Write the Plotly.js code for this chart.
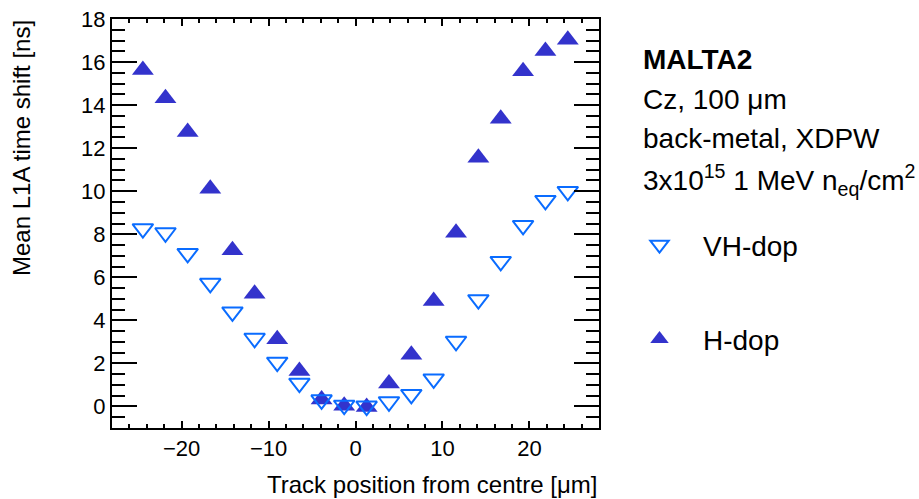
<!DOCTYPE html>
<html><head><meta charset="utf-8">
<script src="https://cdn.plot.ly/plotly-3.0.1.min.js"></script>
<style>html,body{margin:0;padding:0;background:#fff;} #plot{width:919px;height:499px;}</style>
</head><body><div id="plot"></div>
<script>
// Track position from centre [um]
const trackPos = [-24.45,-21.85,-19.3,-16.7,-14.15,-11.6,-9.0,-6.45,-3.9,-1.3,1.28,3.85,6.42,8.99,11.56,14.13,16.7,19.27,21.84,24.41];
// Mean L1A time shift [ns]
const vhDop = [8.26,8.07,7.11,5.72,4.39,3.17,2.06,1.08,0.31,0.06,0.02,0.22,0.56,1.28,3.03,4.96,6.74,8.41,9.57,9.99];
const hDop  = [15.63,14.32,12.75,10.11,7.26,5.24,3.12,1.65,0.32,0.03,-0.03,1.07,2.40,4.90,8.07,11.56,13.37,15.57,16.51,17.04];
const xTicks = [-20,-10,0,10,20];
const yTicks = [0,2,4,6,8,10,12,14,16,18];
const seriesNames = ['VH-dop','H-dop'];
const infoLines = ['<b>MALTA2</b>','Cz, 100 μm','back-metal, XDPW','3x10<sup>15</sup> 1 MeV n<sub>eq</sub>/cm<sup>2</sup>'];

const FONT = 'Liberation Sans, Arial, Helvetica, sans-serif';

const traces = [
  {x: trackPos, y: hDop, name: seriesNames[1], type:'scatter', mode:'markers', legendgroup:'h', legendrank:2,
   marker:{symbol:'triangle-up', size:19, color:'#3333cc', line:{width:0}}},
  {x: trackPos, y: vhDop, name: seriesNames[0], type:'scatter', mode:'markers', legendgroup:'vh', legendrank:1,
   marker:{symbol:'triangle-down-open', size:18, color:'#0a6cff', line:{width:2, color:'#0a6cff'}}}
];

const axBase = {
  ticks:'inside', tickwidth:2, tickcolor:'black',
  showline:true, linewidth:2, linecolor:'black', mirror:'allticks',
  zeroline:false, showgrid:false,
  tickfont:{family:FONT, size:22, color:'black'}
};

const W = 487, H = 409, L = 112, T = 19;
const px = v => (v - L) / W;
const py = v => (T + H - v) / H;

const annotations = [
  {text:'Mean L1A time shift [ns]', textangle:-90, xref:'paper', yref:'paper',
   x:px(22), y:py(18), xanchor:'center', yanchor:'top', showarrow:false,
   font:{family:FONT, size:24, color:'black'}},
  {text:'Track position from centre [μm]', xref:'paper', yref:'paper',
   x:px(599), y:py(484), xanchor:'right', yanchor:'middle', showarrow:false,
   font:{family:FONT, size:24, color:'black'}}
];
const lineY = [60, 99, 138, 180];
infoLines.forEach((t,i)=>annotations.push({
  text:t, xref:'paper', yref:'paper', x:px(641), y:py(lineY[i]), xanchor:'left', yanchor:'middle',
  showarrow:false, font:{family:FONT, size:28, color:'black'}
}));

const layout = {
  width:919, height:499,
  margin:{l:L, r:919-L-W, t:T, b:499-T-H, pad:0},
  paper_bgcolor:'white', plot_bgcolor:'white',
  showlegend:true,
  legend:{x:px(616), y:py(220), xanchor:'left', yanchor:'top', traceorder:'grouped',
    tracegroupgap:55, itemwidth:77, font:{family:FONT, size:28, color:'black'},
    bgcolor:'rgba(0,0,0,0)', borderwidth:0},
  xaxis:Object.assign({}, axBase, {range:[-28,28], tickmode:'array', tickvals:xTicks, ticklen:7,
    minor:{tickmode:'linear', tick0:0, dtick:2, ticks:'inside', ticklen:4, tickwidth:2, tickcolor:'black', showgrid:false}}),
  yaxis:Object.assign({}, axBase, {range:[-1,18], tickmode:'array', tickvals:yTicks, ticklen:25,
    minor:{tickmode:'linear', tick0:0, dtick:0.5, ticks:'inside', ticklen:13, tickwidth:2, tickcolor:'black', showgrid:false}}),
  annotations:annotations
};

Plotly.newPlot('plot', traces, layout, {displayModeBar:false, staticPlot:true});
</script>
</body></html>
